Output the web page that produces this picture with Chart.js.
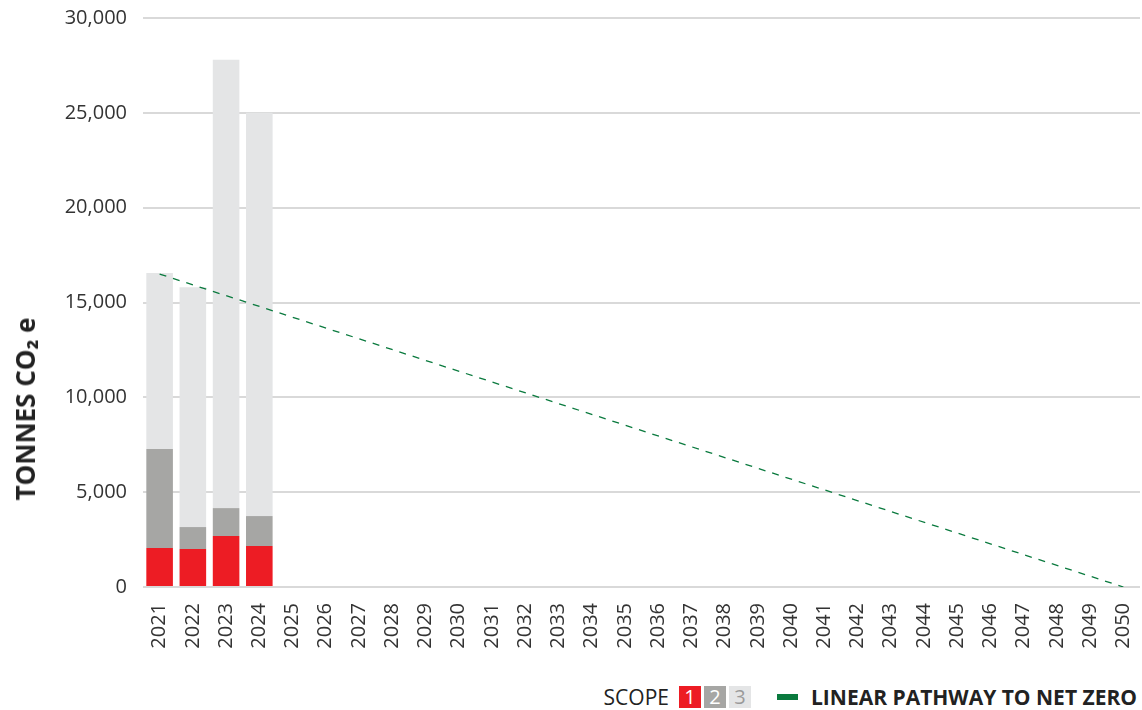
<!DOCTYPE html>
<html>
<head>
<meta charset="utf-8">
<script src="https://cdn.jsdelivr.net/npm/chart.js@4.4.1/dist/chart.umd.min.js"></script>
<style>
  body { margin: 0; background: #fff; font-family: "Open Sans", sans-serif; }
  #wrap { position: relative; width: 1142px; height: 710px; }
  #chartBox { position: absolute; left: 0; top: 0; width: 1142px; height: 665px; }
  #yTitle {
    position: absolute; left: 25px; top: 409px;
    transform: translate(-50%, -50%) rotate(-90deg);
    font-weight: 700; font-size: 26px; color: #222; white-space: nowrap;
  }
  #legend {
    position: absolute; right: 5px; top: 686px; height: 22px;
    display: flex; align-items: center; font-size: 21px; color: #222;
  }
  .sw { display: inline-block; width: 22px; height: 22px; line-height: 22px; text-align: center; margin-left: 3px; font-size: 20px; }
  .gap { width: 26px; }
  .line-sw { display: inline-block; width: 21px; height: 6px; background: #0a7a3e; margin-right: 13px; }
</style>
</head>
<body>
<div id="wrap">
  <div id="chartBox"><canvas id="emChart"></canvas></div>
  <div id="yTitle">TONNES CO₂ e</div>
  <div id="legend">
    <span style="margin-right:7px">SCOPE</span>
    <span class="sw" style="background:#ed1c24;color:#fff">1</span>
    <span class="sw" style="background:#a6a6a4;color:#fff">2</span>
    <span class="sw" style="background:#e4e5e6;color:#9a9a9a">3</span>
    <span class="gap"></span>
    <span class="line-sw"></span>
    <b>LINEAR PATHWAY TO NET ZERO</b>
  </div>
</div>
<script>
// ================== DATA ==================
const years = ["2021", "2022", "2023", "2024", "2025", "2026", "2027", "2028", "2029", "2030",
  "2031", "2032", "2033", "2034", "2035", "2036", "2037", "2038", "2039", "2040",
  "2041", "2042", "2043", "2044", "2045", "2046", "2047", "2048", "2049", "2050"];
const scope1 = [2060, 2000, 2690, 2160];
const scope2 = [5210, 1160, 1470, 1580];
const scope3 = [9280, 12640, 23640, 21260];
const pathwayYears = ["2021", "2050"];
const pathwayValues = [16500, 0];
const yTicks = [0, 5000, 10000, 15000, 20000, 25000, 30000];

// ================== COLOURS ==================
const RED = "#ed1c24";
const MID_GREY = "#a6a6a4";
const LIGHT_GREY = "#e4e5e6";
const GREEN = "#0a7a3e";
const GRID = "#d9d9d9";

const tickFont = { family: "'Open Sans', sans-serif", size: 20 };

const barSet = (label, data, color) => ({
  type: "bar",
  label,
  data,
  backgroundColor: color,
  stack: "scopes",
  barPercentage: 0.8,
  categoryPercentage: 1,
  order: 2,
});

// ================== CHART ==================
new Chart(document.getElementById("emChart"), {
  data: {
    labels: years,
    datasets: [
      barSet("Scope 1", scope1, RED),
      barSet("Scope 2", scope2, MID_GREY),
      barSet("Scope 3", scope3, LIGHT_GREY),
      {
        type: "line",
        label: "Linear pathway to net zero",
        data: pathwayYears.map((y, i) => ({ x: y, y: pathwayValues[i] })),
        borderColor: GREEN,
        borderWidth: 1.3,
        borderDash: [7, 7],
        pointRadius: 0,
        stack: "path",
        order: 1,
      },
    ],
  },
  options: {
    responsive: true,
    maintainAspectRatio: false,
    animation: false,
    layout: { padding: { top: 18, right: 2, left: 0, bottom: 0 } },
    plugins: { legend: { display: false }, tooltip: { enabled: false } },
    scales: {
      x: {
        stacked: true,
        grid: { display: false },
        border: { display: false },
        ticks: {
          color: "#333",
          font: tickFont,
          minRotation: 90,
          maxRotation: 90,
          autoSkip: false,
          padding: 8,
        },
        afterFit: (s) => {
          s.height = 78;
          s.paddingLeft = 0;
          s.paddingRight = 0;
        },
      },
      y: {
        stacked: true,
        min: 0,
        max: 30000,
        afterBuildTicks: (s) => { s.ticks = yTicks.map((v) => ({ value: v })); },
        grid: { color: GRID, lineWidth: 2, drawTicks: false },
        border: { display: false },
        ticks: {
          color: "#333",
          font: tickFont,
          padding: 16,
          callback: (v) => v.toLocaleString("en-US"),
        },
        afterFit: (s) => {
          s.width = 143;
          s.paddingTop = 0;
          s.paddingBottom = 0;
        },
      },
    },
  },
});
</script>
</body>
</html>
